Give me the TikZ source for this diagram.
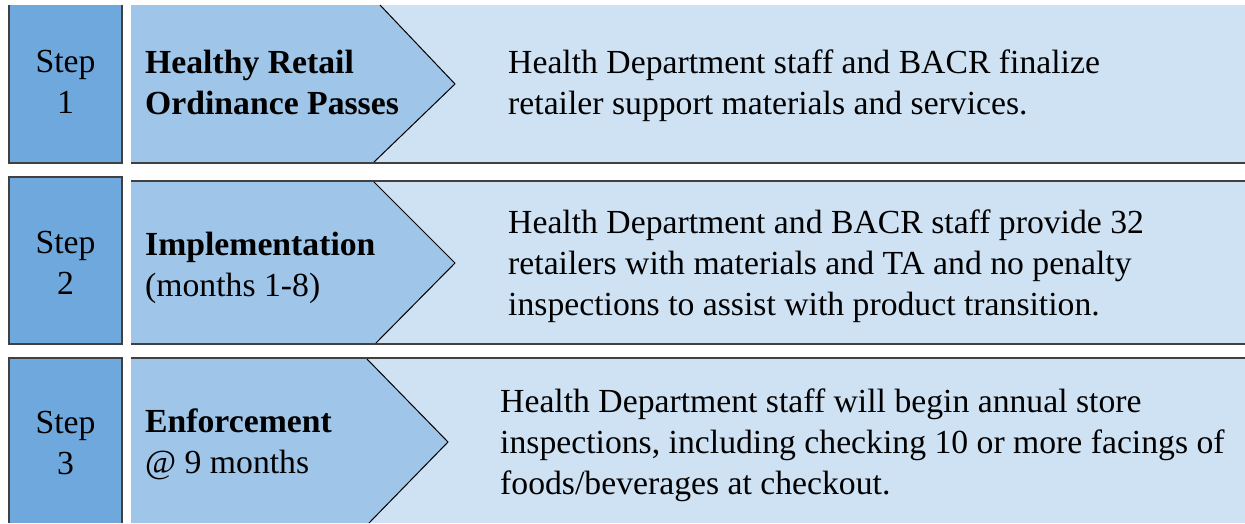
\documentclass[tikz,border=0pt]{standalone}
\usepackage{fontspec}
\setmainfont{Liberation Serif}
\usepackage{xcolor}
\definecolor{stepblue}{HTML}{6FA8DC}
\definecolor{arrowblue}{HTML}{9FC5E8}
\definecolor{paneblue}{HTML}{CFE2F3}
\definecolor{rulegray}{HTML}{404040}
\usepackage{tikz}
\usetikzlibrary{positioning}

\begin{document}
\begin{tikzpicture}[x=1pt,y=-1pt,
  every node/.style={inner sep=0pt,font=\fontsize{33.7}{41}\selectfont},
  stepbox/.style={fill=stepblue,draw=rulegray,line width=1.5pt},
  chevron/.style={fill=arrowblue},
  chevedge/.style={draw=black,line width=1pt},
  panerule/.style={draw=rulegray,line width=1.5pt},
  steplabel/.style={align=center},
  titlelabel/.style={align=left,anchor=west},
  detaillabel/.style={align=left,anchor=west}]
\useasboundingbox (0,0) rectangle (1245,523);

\fill[paneblue] (131,5) rectangle (1245,163);
\fill[chevron] (131,5) -- (380,5) -- (455,84) -- (373,163) -- (131,163) -- cycle;
\draw[chevedge] (380,5) -- (455,84) -- (373,163);
\draw[panerule] (131,163) -- (1245,163);
\fill[stepblue] (9,5) rectangle (122,163);
\draw[panerule] (9,5) -- (9,163) -- (122,163) -- (122,5);
\node[steplabel] (step1) at (65.5,82) {Step\\1};
\node[titlelabel] (title1) at (145,82) {\textbf{Healthy Retail}\\\textbf{Ordinance Passes}};
\node[detaillabel] (detail1) at (508,86) {Health Department staff and BACR finalize\\retailer support materials and services.};

\fill[paneblue] (131,181) rectangle (1245,344);
\fill[chevron] (131,181) -- (373,181) -- (455,263) -- (375,344) -- (131,344) -- cycle;
\draw[chevedge] (373,181) -- (455,263) -- (375,344);
\draw[panerule] (131,181) -- (1245,181) (131,344) -- (1245,344);
\filldraw[stepbox] (9,177) rectangle (122,344);
\node[steplabel] (step2) at (65.5,263) {Step\\2};
\node[titlelabel] (title2) at (145,267.5) {\textbf{Implementation}\\(months 1-8)};
\node[detaillabel] (detail2) at (508,266.4) {Health Department and BACR staff provide 32\\retailers with materials and TA and no penalty\\inspections to assist with product transition.};

\fill[paneblue] (131,358) rectangle (1245,523);
\fill[chevron] (131,358) -- (366,358) -- (448,442) -- (369,523) -- (131,523) -- cycle;
\draw[chevedge] (366,358) -- (448,442) -- (369,523);
\draw[panerule] (131,358) -- (1245,358);
\fill[stepblue] (9,358) rectangle (122,523);
\draw[panerule] (9,523) -- (9,358) -- (122,358) -- (122,523);
\node[steplabel] (step3) at (65.5,443) {Step\\3};
\node[titlelabel] (title3) at (145,444) {\textbf{Enforcement}\\@ 9 months};
\node[detaillabel] (detail3) at (500,445.4) {Health Department staff will begin annual store\\inspections, including checking 10 or more facings of\\foods/beverages at checkout.};
\end{tikzpicture}
\end{document}
